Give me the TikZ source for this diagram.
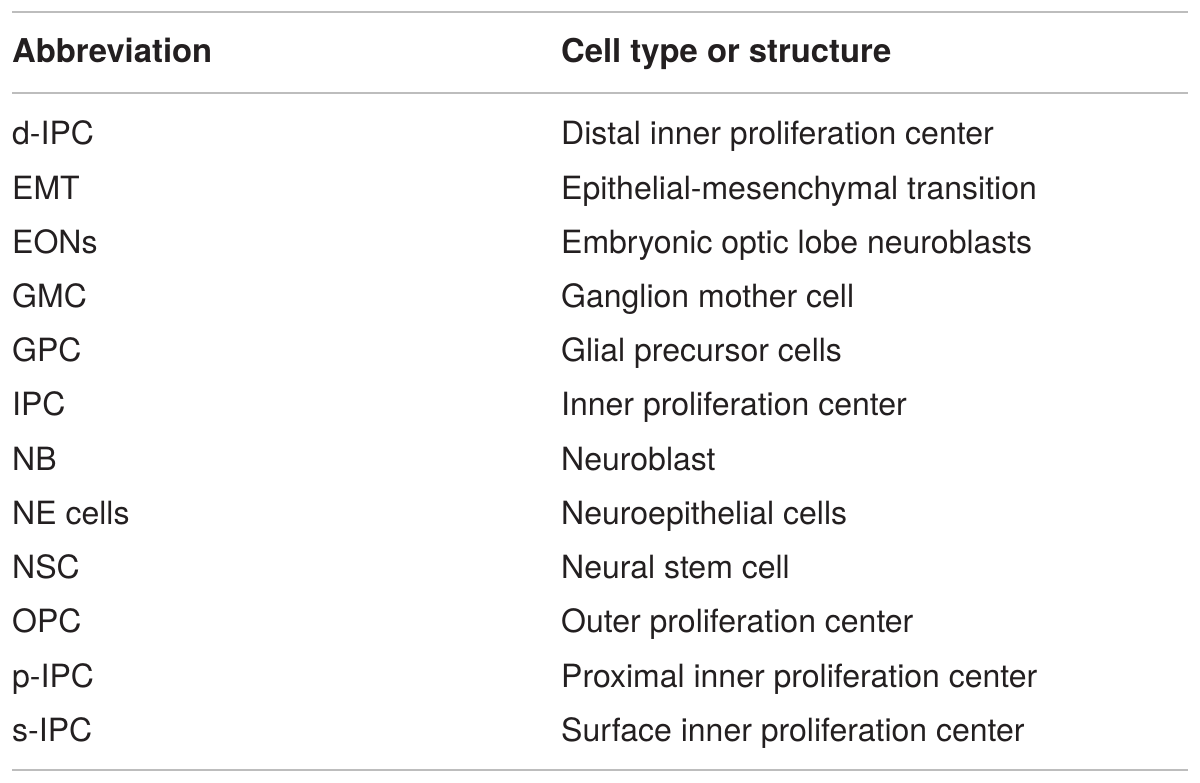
\documentclass[tikz,border=0pt]{standalone}
\usepackage{fontspec}
\setmainfont{TeX Gyre Heros}
\definecolor{txt}{HTML}{231F20}
\definecolor{rule}{HTML}{BDBDBD}
\begin{document}
\begin{tikzpicture}[x=1pt,y=-1pt,
  cell/.style={anchor=base west,inner sep=0pt,text=txt,font=\fontsize{32}{38}\selectfont},
  head/.style={cell,font=\fontsize{32.8}{38}\selectfont\bfseries},
  hrule/.style={draw=rule,line width=2pt}]
\useasboundingbox (0,0) rectangle (1200,783);
\coordinate (t1) at (12,12); \coordinate (t2) at (1188,12);
\coordinate (m1) at (12,93); \coordinate (m2) at (1188,93);
\coordinate (b1) at (12,770); \coordinate (b2) at (1188,770);
\draw[hrule] (t1) -- (t2);
\draw[hrule] (m1) -- (m2);
\draw[hrule] (b1) -- (b2);
\node[head] (h1) at (12,63) {Abbreviation};
\node[head] (h2) at (561,63) {Cell type or structure};
\foreach \i/\a/\b in {0/d-IPC/Distal inner proliferation center,
  1/EMT/Epithelial-mesenchymal transition,
  2/EONs/Embryonic optic lobe neuroblasts,
  3/GMC/Ganglion mother cell,
  4/GPC/Glial precursor cells,
  5/IPC/Inner proliferation center,
  6/NB/Neuroblast,
  7/NE cells/Neuroepithelial cells,
  8/NSC/Neural stem cell,
  9/OPC/Outer proliferation center,
  10/p-IPC/Proximal inner proliferation center,
  11/s-IPC/Surface inner proliferation center}{
  \node[cell] (a\i) at (12,145+54.2*\i) {\a};
  \node[cell] (c\i) at (561,145+54.2*\i) {\b};
}
\end{tikzpicture}
\end{document}
